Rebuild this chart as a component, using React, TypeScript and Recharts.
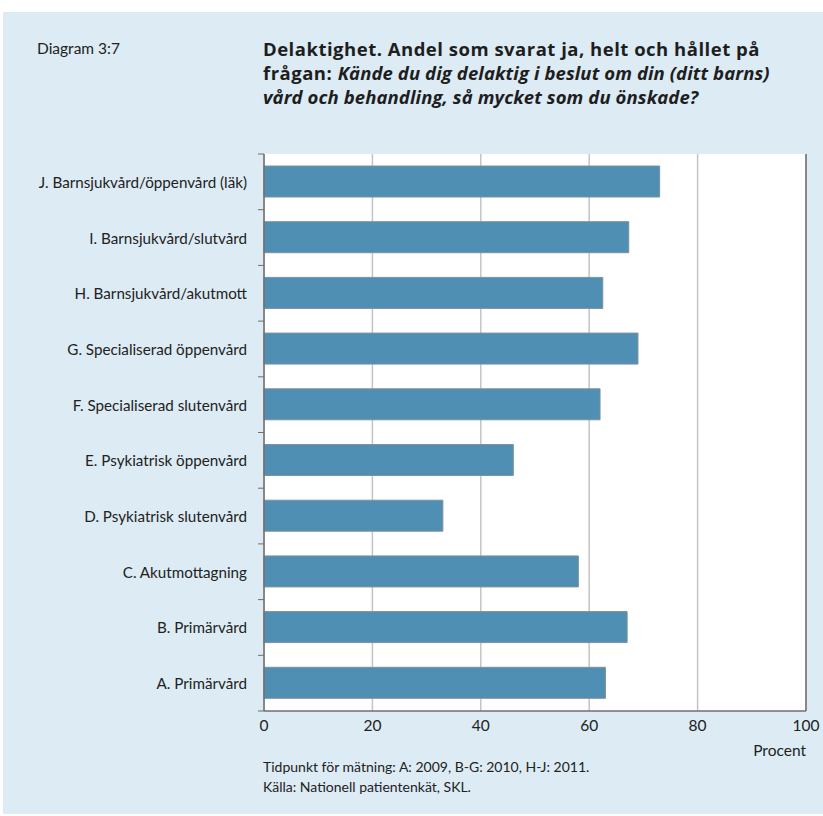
import {
  BarChart,
  Bar,
  XAxis,
  YAxis,
  CartesianGrid,
  ReferenceLine,
} from "recharts";

const categories = [
  "J. Barnsjukvård/öppenvård (läk)",
  "I. Barnsjukvård/slutvård",
  "H. Barnsjukvård/akutmott",
  "G. Specialiserad öppenvård",
  "F. Specialiserad slutenvård",
  "E. Psykiatrisk öppenvård",
  "D. Psykiatrisk slutenvård",
  "C. Akutmottagning",
  "B. Primärvård",
  "A. Primärvård",
];

const andelJa = [73, 67.3, 62.5, 69, 62, 46, 33, 58, 67, 63];

const xTicks = [0, 20, 40, 60, 80, 100];

const data = categories.map((name, i) => ({ name, value: andelJa[i] }));

const W = 823;
const H = 816;
const PLOT_LEFT = 264;
const PLOT_TOP = 154;
const PLOT_RIGHT = 806;
const PLOT_BOTTOM = 711;
const BAND = (PLOT_BOTTOM - PLOT_TOP) / categories.length;

const FONT = "Lato, 'Open Sans', sans-serif";
const TITLE_FONT = "'Open Sans', Lato, sans-serif";
const FRAME = "#6f6f6f";

// eslint-disable-next-line @typescript-eslint/no-explicit-any
const CategoryTick = ({ y, payload, index }: any) => {
  const last = index === categories.length - 1;
  return (
    <g>
      <line
        x1={PLOT_LEFT - 6}
        x2={PLOT_LEFT}
        y1={y - BAND / 2}
        y2={y - BAND / 2}
        stroke={FRAME}
        strokeWidth={1}
      />
      {last && (
        <line
          x1={PLOT_LEFT - 6}
          x2={PLOT_LEFT}
          y1={y + BAND / 2}
          y2={y + BAND / 2}
          stroke={FRAME}
          strokeWidth={1}
        />
      )}
      <text
        x={PLOT_LEFT - 17}
        y={y}
        textAnchor="end"
        dominantBaseline="central"
        fill="#222"
        fontSize={15.2}
        fontFamily={FONT}
      >
        {payload.value}
      </text>
    </g>
  );
};

const App = () => {
  return (
    <div
      style={{
        position: "absolute",
        left: 0,
        top: 0,
        width: W,
        height: H,
        background: "#fff",
        overflow: "hidden",
        fontFamily: FONT,
      }}
    >
      <div
        style={{
          position: "absolute",
          left: 3,
          top: 12,
          width: W,
          height: 802,
          background: "#dcebf4",
        }}
      />
      <div
        style={{
          position: "absolute",
          left: 37,
          top: 39,
          fontSize: 15.5,
          color: "#222",
        }}
      >
        Diagram 3:7
      </div>
      <div
        style={{
          position: "absolute",
          left: 263,
          top: 37,
          width: 560,
          fontSize: 18.5,
          lineHeight: "24px",
          fontWeight: 700,
          letterSpacing: 0.5,
          fontFamily: TITLE_FONT,
          color: "#1e1e1e",
          whiteSpace: "nowrap",
        }}
      >
        Delaktighet. Andel som svarat ja, helt och hållet på
        <br />
        frågan:{" "}
        <i style={{ letterSpacing: 0.1 }}>
          Kände du dig delaktig i beslut om din (ditt barns)
          <br />
          vård och behandling, så mycket som du önskade?
        </i>
      </div>

      <div style={{ position: "absolute", left: 0, top: 0 }}>
        <BarChart
          width={W}
          height={H}
          data={data}
          layout="vertical"
          margin={{
            top: PLOT_TOP,
            right: W - PLOT_RIGHT,
            bottom: 75,
            left: 0,
          }}
          barSize={31}
        >
          <CartesianGrid
            horizontal={false}
            stroke="#c4c4c4"
            strokeWidth={1.5}
            fill="#fff"
          />
          <XAxis
            type="number"
            domain={[0, 100]}
            ticks={xTicks}
            tickLine={false}
            axisLine={{ stroke: FRAME, strokeWidth: 1.5 }}
            tick={{ fill: "#222", fontSize: 15.5, fontFamily: FONT }}
            tickMargin={3}
            height={H - PLOT_BOTTOM - 75}
          />
          <XAxis
            xAxisId="top"
            orientation="top"
            type="number"
            domain={[0, 100]}
            tick={false}
            tickLine={false}
            axisLine={{ stroke: "#8a8a8a", strokeWidth: 1.5 }}
            height={0}
          />
          <YAxis
            type="category"
            dataKey="name"
            width={PLOT_LEFT}
            tickLine={false}
            axisLine={{ stroke: FRAME, strokeWidth: 1.5 }}
            tick={<CategoryTick />}
            interval={0}
          />
          <ReferenceLine x={100} stroke={FRAME} strokeWidth={1.5} />
          <Bar
            dataKey="value"
            fill="#4f8fb3"
            stroke="#7f919c"
            strokeWidth={1}
            isAnimationActive={false}
          />
        </BarChart>
      </div>

      <div
        style={{
          position: "absolute",
          right: W - PLOT_RIGHT,
          top: 741,
          fontSize: 15.5,
          color: "#222",
        }}
      >
        Procent
      </div>
      <div
        style={{
          position: "absolute",
          left: 263,
          top: 757,
          fontSize: 14,
          lineHeight: "20px",
          color: "#222",
        }}
      >
        Tidpunkt för mätning: A: 2009, B-G: 2010, H-J: 2011.
        <br />
        Källa: Nationell patientenkät, SKL.
      </div>
    </div>
  );
};

export default App;
